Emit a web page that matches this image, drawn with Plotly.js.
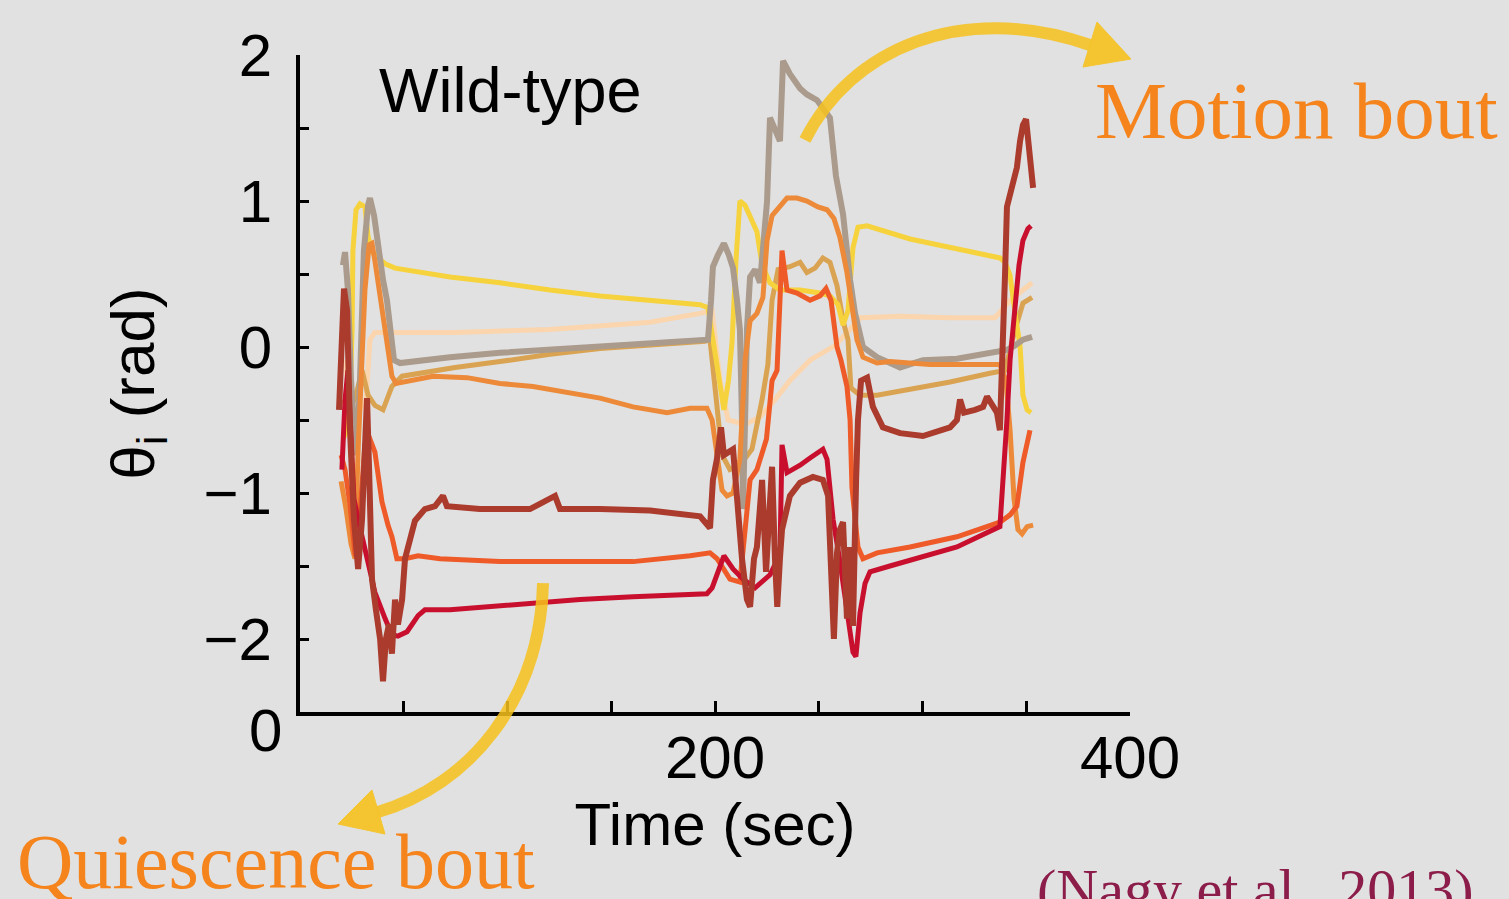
<!DOCTYPE html>
<html>
<head>
<meta charset="utf-8">
<script src="https://cdn.plot.ly/plotly-3.0.1.min.js"></script>
<style>html,body{margin:0;padding:0;background:#e1e1e1;}#chart{width:1509px;height:899px;}</style>
</head>
<body>
<div id="chart"></div>
<script>
// ---- Data (time in sec, theta_i in rad) ----
const tPeach = [21.7,25.1,28.9,31.8,33.7,36.1,48.2,74.7,120.5,168.7,192.8,198.6,202.4,206.3,214.5,221.7,228.9,236.1,245.8,257.8,265.1,269.9,289.2,313.3,334.9,342.2,352.8];
const vPeach = [-0.09,-0.50,-0.43,-0.36,0.05,0.10,0.10,0.10,0.12,0.17,0.23,0.25,-0.23,-0.50,-0.53,-0.48,-0.36,-0.23,-0.09,0.01,0.12,0.20,0.21,0.20,0.20,0.32,0.44];

const tYellow = [20.7,22.7,24.1,25.1,25.5,27.0,28.9,31.3,32.8,34.7,37.6,41.0,45.8,57.8,72.3,96.4,120.5,144.6,168.7,192.8,196.6,200.0,204.3,206.5,208.2,210.1,212.0,214.5,216.9,220.2,222.7,226.5,231.3,241.0,250.6,255.4,259.3,261.7,264.1,266.5,268.9,273.3,294.0,313.3,337.3,339.8,342.2,345.1,347.0,348.4,350.4,352.3];
const vYellow = [-0.63,-0.57,-0.36,0.12,0.66,0.94,0.98,0.96,0.76,0.65,0.61,0.57,0.54,0.51,0.48,0.44,0.39,0.35,0.32,0.29,0.27,-0.02,-0.43,-0.23,0.03,0.59,1.00,0.97,0.90,0.79,0.56,0.44,0.39,0.39,0.37,0.35,0.29,0.15,0.25,0.68,0.82,0.83,0.74,0.68,0.61,0.58,0.49,0.18,0.01,-0.33,-0.43,-0.45];

const tTan = [20.7,24.1,27.0,29.9,32.8,36.1,40.0,42.4,44.3,49.2,74.7,96.4,120.5,144.6,168.7,195.2,197.6,200.0,203.4,207.2,212.0,217.8,222.7,225.5,227.5,230.4,236.1,241.0,244.3,248.2,252.0,255.4,258.8,261.7,264.1,265.5,269.9,278.1,294.0,313.3,332.5,339.8,344.6,348.4,352.8];
const vTan = [-0.36,-0.43,-0.33,-0.16,-0.33,-0.40,-0.43,-0.35,-0.27,-0.20,-0.14,-0.10,-0.05,-0.01,0.01,0.04,0.05,-0.29,-0.74,-0.84,-0.81,-0.70,-0.36,-0.12,0.32,0.53,0.55,0.58,0.51,0.54,0.61,0.58,0.42,0.18,0.05,-0.28,-0.33,-0.33,-0.29,-0.24,-0.18,-0.16,0.12,0.30,0.34];

const tGray = [20.7,21.7,23.1,24.6,26.5,27.5,28.9,30.8,32.8,33.7,35.7,37.6,40.0,41.9,43.9,45.3,48.2,57.8,72.3,96.4,120.5,144.6,168.7,192.8,196.6,198.1,199.0,201.4,204.3,206.7,208.7,210.6,212.0,213.0,213.5,214.5,215.4,216.9,219.3,221.7,223.6,225.1,226.5,228.9,231.3,232.8,236.1,241.0,244.3,249.2,255.4,258.3,261.7,265.1,267.5,271.3,278.1,289.2,300.2,316.6,332.5,340.7,344.6,348.4,352.8];
const vGray = [0.56,0.65,0.39,-0.23,-0.63,-0.74,-0.23,0.66,0.97,1.02,0.90,0.68,0.46,0.32,0.05,-0.09,-0.11,-0.09,-0.07,-0.04,-0.02,0.00,0.02,0.04,0.05,0.32,0.55,0.63,0.71,0.63,0.54,0.32,0.12,-0.50,-1.11,-0.50,0.12,0.48,0.53,0.44,0.73,1.00,1.57,1.48,1.41,1.96,1.87,1.77,1.73,1.69,1.57,1.17,0.91,0.46,0.23,0.00,-0.07,-0.14,-0.09,-0.08,-0.04,-0.02,0.01,0.05,0.07];

const tOrange = [19.8,22.2,24.6,26.5,28.0,29.4,31.3,33.3,34.7,36.1,38.1,39.5,41.9,44.3,46.3,64.1,80.5,96.4,112.3,128.7,144.6,160.5,176.9,188.0,196.1,198.6,201.0,203.4,205.8,208.7,212.0,214.5,216.9,220.2,223.1,225.1,227.5,231.3,234.7,239.5,244.3,249.6,254.0,257.3,260.2,263.6,266.0,268.4,271.3,278.1,284.3,303.6,322.9,337.3,340.2,342.2,344.1,346.0,348.0,350.4,353.3];
const vOrange = [-0.92,-1.11,-1.35,-1.45,-0.70,-0.23,0.39,0.70,0.71,0.59,0.39,0.23,-0.02,-0.20,-0.25,-0.20,-0.21,-0.25,-0.27,-0.31,-0.35,-0.41,-0.45,-0.42,-0.42,-0.50,-0.75,-0.98,-1.02,-1.00,-0.77,-0.09,0.18,0.23,0.34,0.73,0.90,0.97,1.02,1.02,1.00,0.96,0.94,0.88,0.75,0.51,0.29,0.05,-0.07,-0.11,-0.10,-0.12,-0.12,-0.12,-0.23,-0.57,-1.04,-1.25,-1.28,-1.23,-1.22];

const tRedOrange = [19.8,21.7,24.1,26.5,28.0,29.4,31.3,33.7,36.1,39.5,42.4,44.3,46.7,50.6,56.9,67.5,96.4,125.3,160.5,188.0,197.6,201.0,203.9,207.2,212.0,213.5,216.9,220.2,224.8,227.5,229.9,231.3,232.3,234.7,239.5,245.8,250.6,253.5,255.9,258.8,260.7,263.6,265.1,266.0,268.9,271.3,278.1,294.0,316.6,337.3,342.2,345.5,348.4,351.8];
const vRedOrange = [-0.74,-0.84,-1.08,-1.42,-1.45,-1.04,-0.67,-0.63,-0.72,-1.06,-1.22,-1.30,-1.45,-1.45,-1.43,-1.45,-1.47,-1.47,-1.47,-1.43,-1.41,-1.45,-1.51,-1.59,-1.61,-1.37,-0.91,-0.84,-0.63,-0.23,-0.16,0.32,0.66,0.39,0.37,0.32,0.35,0.40,0.32,0.00,-0.09,-0.27,-0.50,-0.96,-1.37,-1.45,-1.41,-1.37,-1.30,-1.20,-1.15,-1.09,-0.79,-0.57];

const tBrown = [18.8,20.2,21.2,22.7,24.1,26.0,28.0,29.9,31.3,32.3,33.3,34.7,36.6,38.6,40.0,41.4,42.9,44.3,45.8,47.2,49.2,50.6,53.0,55.4,60.2,65.1,68.9,70.8,86.7,110.8,122.9,125.3,144.6,168.7,192.8,197.6,199.0,200.9,202.9,204.3,208.7,210.6,213.0,215.4,216.9,218.8,220.2,222.7,224.6,226.0,227.5,228.9,230.0,231.3,232.3,236.1,241.0,247.2,252.0,254.5,255.9,257.3,258.8,260.2,261.7,262.7,263.6,265.1,266.5,268.0,268.9,270.4,273.3,276.1,280.9,289.2,300.2,313.3,316.6,318.1,320.0,325.3,329.2,331.1,333.5,335.9,337.3,338.3,339.8,340.7,343.1,345.5,347.0,348.4,349.9,350.8,351.8,353.3];
const vBrown = [-0.43,0.12,0.40,0.25,-0.57,-1.18,-1.52,-1.18,-0.50,-0.35,-0.84,-1.59,-1.80,-2.00,-2.29,-2.00,-1.90,-2.10,-1.73,-1.90,-1.73,-1.45,-1.32,-1.19,-1.11,-1.09,-1.02,-1.09,-1.11,-1.11,-1.02,-1.11,-1.11,-1.12,-1.16,-1.24,-0.91,-0.77,-0.55,-0.74,-0.70,-1.02,-1.45,-1.73,-1.78,-1.45,-1.37,-0.91,-1.54,-1.18,-0.82,-1.45,-1.78,-1.45,-1.25,-1.02,-0.93,-0.89,-0.91,-1.02,-1.64,-2.00,-1.41,-1.25,-1.20,-1.73,-1.86,-1.37,-1.91,-0.91,-0.50,-0.23,-0.21,-0.41,-0.55,-0.59,-0.61,-0.55,-0.50,-0.36,-0.45,-0.43,-0.41,-0.34,-0.40,-0.45,-0.57,-0.23,0.51,0.96,1.11,1.23,1.41,1.52,1.56,1.41,1.24,1.09];

const tCrimson = [20.2,21.7,23.1,24.6,26.0,28.0,31.3,36.1,41.0,44.3,47.2,51.6,56.9,60.2,72.3,96.4,112.3,134.9,160.5,196.1,198.6,204.3,208.7,213.5,219.3,226.5,231.3,232.3,234.7,241.0,245.8,252.0,254.0,256.9,260.2,264.1,266.5,267.9,269.9,272.3,274.7,284.3,316.6,337.3,339.3,340.7,342.2,344.6,346.5,348.4,350.8,352.3];
const vCrimson = [-0.84,-0.36,-0.16,-0.70,-1.04,-1.18,-1.37,-1.68,-1.86,-1.97,-1.98,-1.95,-1.84,-1.80,-1.80,-1.77,-1.75,-1.73,-1.71,-1.69,-1.65,-1.43,-1.52,-1.59,-1.65,-1.56,-1.42,-0.67,-0.86,-0.81,-0.76,-0.70,-0.77,-1.18,-1.47,-1.86,-2.09,-2.12,-1.82,-1.62,-1.54,-1.50,-1.37,-1.23,-0.84,-0.50,-0.09,0.32,0.56,0.73,0.81,0.83];

// labelled ticks (minor ticks every 50 s / 0.5 rad are unlabelled)
const xTickVals = [200,400];
const xTickText = ['200','400'];
const yTickVals = [-2,-1,0,1,2];
const yTickText = ['\u22122','\u22121','0','1','2'];

// ---- Traces ----
const series = [
  {t:tPeach, v:vPeach, color:'#fbd5ad', w:5},
  {t:tTan, v:vTan, color:'#d9a352', w:5},
  {t:tYellow, v:vYellow, color:'#f6d23c', w:5},
  {t:tGray, v:vGray, color:'#aa9b8d', w:6},
  {t:tOrange, v:vOrange, color:'#ec8a3a', w:5},
  {t:tRedOrange, v:vRedOrange, color:'#ee5a28', w:5},
  {t:tCrimson, v:vCrimson, color:'#c8102e', w:5},
  {t:tBrown, v:vBrown, color:'#ab3b2d', w:6}
];
const traces = series.map(s => ({
  type:'scatter', mode:'lines', x:s.t, y:s.v,
  line:{color:s.color, width:s.w, shape:'linear'},
  hoverinfo:'skip', showlegend:false
}));

// ---- Decorative arrows (pixel positions -> paper coords) ----
const L=300, T=55, W=830, H=657;
function P(px,py){ return ((px-L)/W).toFixed(4)+','+((T+H-py)/H).toFixed(4); }
const arrowColor = '#f7c21e';
const shapes = [
  {type:'path', xref:'paper', yref:'paper', layer:'above', opacity:0.85,
   path:'M'+P(543,583)+' C'+P(540,700)+' '+P(470,785)+' '+P(378,812),
   line:{color:arrowColor, width:12}},
  {type:'path', xref:'paper', yref:'paper', layer:'above', opacity:0.9,
   path:'M'+P(338,824)+' L'+P(372,790)+' L'+P(385,834)+' Z',
   fillcolor:arrowColor, line:{color:arrowColor, width:1}},
  {type:'path', xref:'paper', yref:'paper', layer:'above', opacity:0.85,
   path:'M'+P(805,140)+' C'+P(850,50)+' '+P(960,0)+' '+P(1090,45),
   line:{color:arrowColor, width:12}},
  {type:'path', xref:'paper', yref:'paper', layer:'above', opacity:0.9,
   path:'M'+P(1131,59)+' L'+P(1083,67)+' L'+P(1097,22)+' Z',
   fillcolor:arrowColor, line:{color:arrowColor, width:1}}
];

const sans = 'Liberation Sans, Arial, Helvetica, sans-serif';
const serif = 'Liberation Serif, Times New Roman, serif';

const layout = {
  width:1509, height:899,
  margin:{l:300, r:379, t:55, b:187, pad:0},
  paper_bgcolor:'#e1e1e1', plot_bgcolor:'rgba(0,0,0,0)',
  showlegend:false,
  xaxis:{
    range:[0,400], showgrid:false, zeroline:false,
    showline:true, linecolor:'#000', linewidth:4,
    ticks:'inside', ticklen:11, tickwidth:3, tickcolor:'#000',
    tickmode:'array', tickvals:xTickVals, ticktext:xTickText,
    minor:{tickmode:'linear', tick0:0, dtick:50, ticks:'inside', ticklen:11, tickwidth:3, tickcolor:'#000', showgrid:false},
    tickfont:{family:sans, size:60, color:'#000'},
    ticklabelstandoff:-10,
    title:{text:'Time (sec)', font:{family:sans, size:60, color:'#000'}, standoff:0},
    fixedrange:true
  },
  yaxis:{
    range:[-2.5,2], showgrid:false, zeroline:false,
    showline:true, linecolor:'#000', linewidth:4,
    ticks:'inside', ticklen:9, tickwidth:3, tickcolor:'#000',
    tickmode:'array', tickvals:yTickVals, ticktext:yTickText,
    minor:{tickmode:'linear', tick0:0, dtick:0.5, ticks:'inside', ticklen:9, tickwidth:3, tickcolor:'#000', showgrid:false},
    tickfont:{family:sans, size:60, color:'#000'},
    ticklabelstandoff:12,
    title:{text:'\u03b8<sub>i</sub> (rad)', font:{family:sans, size:62, color:'#000'}, standoff:30},
    fixedrange:true
  },
  shapes:shapes,
  annotations:[
    {xref:'paper', yref:'paper', x:(510-L)/W, y:(T+H-90)/H, text:'Wild-type', showarrow:false,
     xanchor:'center', yanchor:'middle', font:{family:sans, size:63, color:'#000'}},
    {xref:'paper', yref:'paper', x:(265-L)/W, y:(T+H-730)/H, text:'0', showarrow:false,
     xanchor:'center', yanchor:'middle', font:{family:sans, size:60, color:'#000'}},
    {xref:'paper', yref:'paper', x:(1093-L)/W, y:(T+H-111)/H, text:'Motion bout', showarrow:false,
     xanchor:'left', yanchor:'middle', font:{family:serif, size:81, color:'#f5841c'}},
    {xref:'paper', yref:'paper', x:(15-L)/W, y:(T+H-861)/H, text:'Quiescence bout', showarrow:false,
     xanchor:'left', yanchor:'middle', font:{family:serif, size:78, color:'#f5841c'}},
    {xref:'paper', yref:'paper', x:(1035-L)/W, y:(T+H-889)/H, text:'(Nagy et al., 2013)', showarrow:false,
     xanchor:'left', yanchor:'middle', font:{family:serif, size:58, color:'#8c1c4a'}}
  ]
};

Plotly.newPlot('chart', traces, layout, {displayModeBar:false, staticPlot:true});
</script>
</body>
</html>
